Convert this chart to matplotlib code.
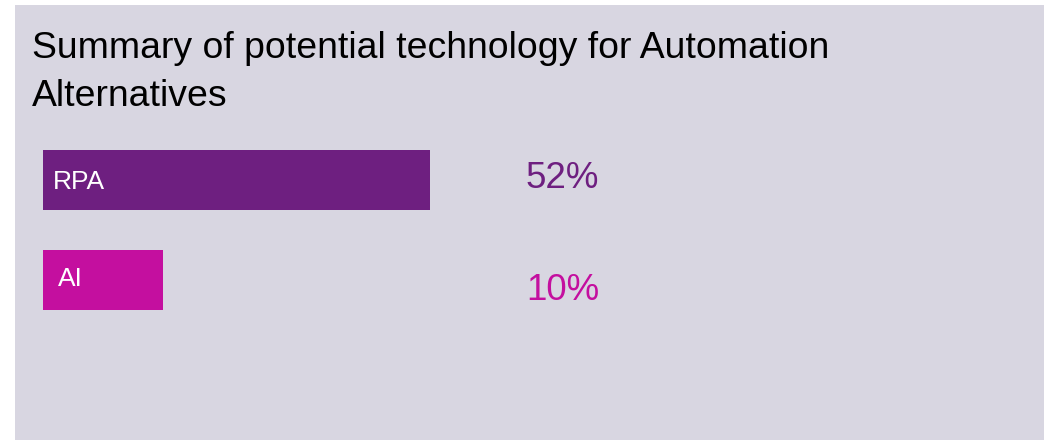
import matplotlib
matplotlib.use('Agg')
import matplotlib.pyplot as plt
from matplotlib.patches import Rectangle

plt.rcParams['font.family'] = ['Liberation Sans', 'DejaVu Sans']

title = 'Summary of potential technology for Automation\nAlternatives'
categories = ['RPA', 'AI']
values = [52, 10]
labels = ['52%', '10%']
colors = ['#6e1f80', '#c40f9f']

W, H = 1048, 440
fig = plt.figure(figsize=(W / 100, H / 100), dpi=100)
fig.patch.set_facecolor('white')

# grey panel
fig.add_artist(Rectangle((15 / W, 0), (1044 - 15) / W, (H - 5) / H,
                         transform=fig.transFigure, facecolor='#d8d6e1',
                         edgecolor='none', zorder=0))

fig.text(32 / W, 1 - 31 / H, title, ha='left', va='top', fontsize=26.9,
         color='#000000', linespacing=1.5)

# bars start a bit below zero so the smallest one is still readable
base = -8.87
ax = fig.add_axes([43 / W, 1 - 330 / H, 692 / W, 200 / H])
ax.set_facecolor('none')
ax.barh(range(len(values)), [v - base for v in values], left=base,
        height=0.6, color=colors)
ax.set_xlim(base, 100)
ax.set_ylim(1.5, -0.5)
ax.axis('off')

name_x = [-7.3, -6.5]
name_y = [0.02, 0.99]
pct_y = [-0.02, 1.1]
for i, cat in enumerate(categories):
    ax.text(name_x[i], name_y[i], cat, color='white', fontsize=19,
            ha='left', va='center')
    ax.text(78.6, pct_y[i], labels[i], color=colors[i], fontsize=26.5,
            ha='right', va='center')

fig.savefig('out.png', dpi=100, facecolor=fig.get_facecolor())
